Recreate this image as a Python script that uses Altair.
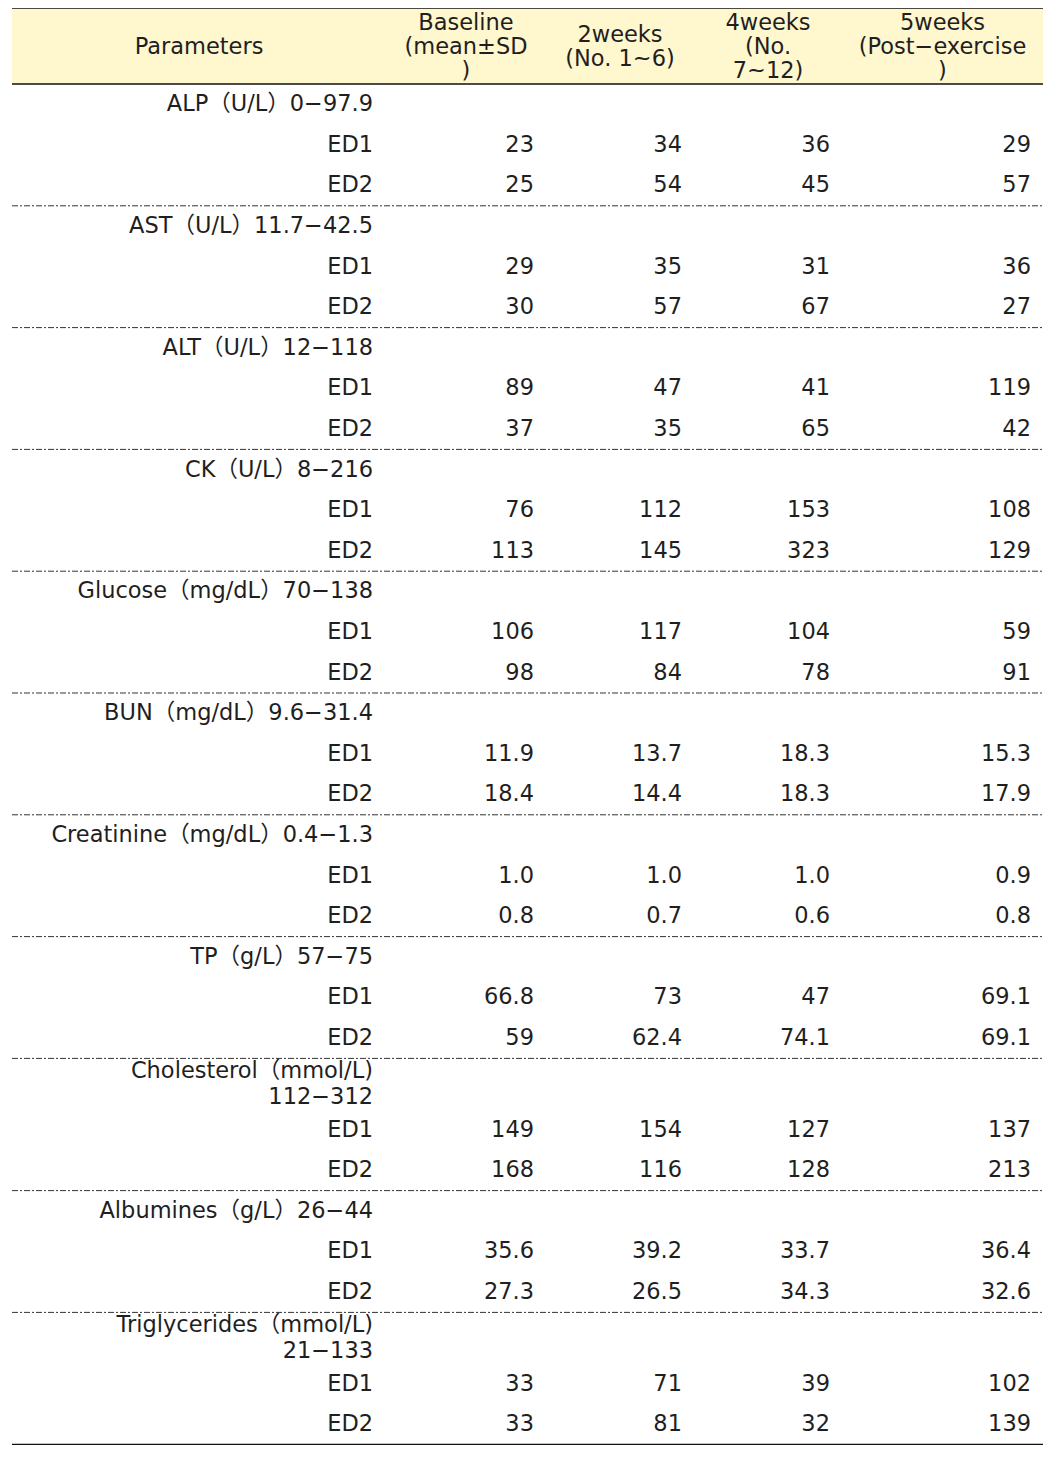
import altair as alt
import pandas as pd

# ---------------- data ----------------
header_labels = [
    "Parameters",
    "Baseline\n(mean±SD\n)",
    "2weeks\n(No. 1~6)",
    "4weeks\n(No.\n7~12)",
    "5weeks\n(Post−exercise\n)",
]
param_labels = [
    "ALP（U/L）0−97.9",
    "AST（U/L）11.7−42.5",
    "ALT（U/L）12−118",
    "CK（U/L）8−216",
    "Glucose（mg/dL）70−138",
    "BUN（mg/dL）9.6−31.4",
    "Creatinine（mg/dL）0.4−1.3",
    "TP（g/L）57−75",
    "Cholesterol（mmol/L)\n112−312",
    "Albumines（g/L）26−44",
    "Triglycerides（mmol/L)\n21−133",
]
group_labels = ["ED1", "ED2"]
ed1_values = [
    ["23", "34", "36", "29"],
    ["29", "35", "31", "36"],
    ["89", "47", "41", "119"],
    ["76", "112", "153", "108"],
    ["106", "117", "104", "59"],
    ["11.9", "13.7", "18.3", "15.3"],
    ["1.0", "1.0", "1.0", "0.9"],
    ["66.8", "73", "47", "69.1"],
    ["149", "154", "127", "137"],
    ["35.6", "39.2", "33.7", "36.4"],
    ["33", "71", "39", "102"],
]
ed2_values = [
    ["25", "54", "45", "57"],
    ["30", "57", "67", "27"],
    ["37", "35", "65", "42"],
    ["113", "145", "323", "129"],
    ["98", "84", "78", "91"],
    ["18.4", "14.4", "18.3", "17.9"],
    ["0.8", "0.7", "0.6", "0.8"],
    ["59", "62.4", "74.1", "69.1"],
    ["168", "116", "128", "213"],
    ["27.3", "26.5", "34.3", "32.6"],
    ["33", "81", "32", "139"],
]

# ---------------- layout ----------------
col_widths = [374, 160, 148, 148, 201]
W = sum(col_widths)
header_h = 76
row_h = 40.6
two_line_h = 51
LH_HEAD = 24
LH = 25.5
col_left = [sum(col_widths[:i]) for i in range(len(col_widths))]
col_right = [col_left[i] + col_widths[i] for i in range(len(col_widths))]
col_center = [(col_left[i] + col_right[i]) / 2 for i in range(len(col_widths))]


def first_line_y(center, text, lh):
    n = text.count("\n") + 1
    return center - (n - 1) * lh / 2


header_rows, label_rows, value_rows, dashed = [], [], [], []
for i, h in enumerate(header_labels):
    header_rows.append({"x": col_center[i], "y": first_line_y(header_h / 2 + 1, h, LH_HEAD), "t": h})

y = header_h
for p, lab in enumerate(param_labels):
    h = two_line_h if "\n" in lab else row_h
    label_rows.append({"x": col_right[0] - 13, "y": first_line_y(y + h / 2, lab, LH), "t": lab})
    y += h
    for g, vals in zip(group_labels, [ed1_values[p], ed2_values[p]]):
        label_rows.append({"x": col_right[0] - 13, "y": y + row_h / 2, "t": g})
        for c, v in enumerate(vals):
            value_rows.append({"x": col_right[c + 1] - 12, "y": y + row_h / 2, "t": v})
        y += row_h
    if p < len(param_labels) - 1:
        dashed.append({"x": 0, "x2": W, "y": y})
H = y
solid = [{"x": 0, "x2": W, "y": 0}, {"x": 0, "x2": W, "y": header_h}, {"x": 0, "x2": W, "y": H}]

xs = alt.Scale(domain=[0, W], nice=False, zero=False)
ys = alt.Scale(domain=[0, H], nice=False, zero=False, reverse=True)

FONT = "DejaVu Sans, Noto Sans CJK KR"
FS = 22.5
COLOR = "#1f1f1f"

band = alt.Chart(pd.DataFrame([{"x": 0, "x2": W, "y": 0, "y2": header_h}])).mark_rect(
    color="#FFF7CE"
).encode(
    x=alt.X("x:Q", scale=xs, axis=None), x2="x2:Q",
    y=alt.Y("y:Q", scale=ys, axis=None), y2="y2:Q",
)

dash_rules = alt.Chart(pd.DataFrame(dashed)).mark_rule(
    color="#333333", strokeWidth=1, strokeDash=[6, 2, 2, 2]
).encode(
    x=alt.X("x:Q", scale=xs, axis=None), x2="x2:Q",
    y=alt.Y("y:Q", scale=ys, axis=None),
)

solid_rules = alt.Chart(pd.DataFrame(solid)).mark_rule(
    color="#111111", strokeWidth=1.6
).encode(
    x=alt.X("x:Q", scale=xs, axis=None), x2="x2:Q",
    y=alt.Y("y:Q", scale=ys, axis=None),
)


def text_layer(rows, align, lh):
    return alt.Chart(pd.DataFrame(rows)).mark_text(
        align=align, baseline="middle", font=FONT, fontSize=FS,
        color=COLOR, lineBreak="\n", lineHeight=lh,
    ).encode(
        x=alt.X("x:Q", scale=xs, axis=None),
        y=alt.Y("y:Q", scale=ys, axis=None),
        text="t:N",
    )


chart = alt.layer(
    band,
    dash_rules,
    solid_rules,
    text_layer(header_rows, "center", LH_HEAD),
    text_layer(label_rows, "right", LH),
    text_layer(value_rows, "right", LH),
).properties(
    width=W, height=H,
    padding={"left": 4, "top": 0, "right": 0, "bottom": 0},
    autosize=alt.AutoSizeParams(type="none"),
    background="white",
).configure_view(stroke=None)

chart.save("out.html", embed_options={"renderer": "svg", "actions": False})
